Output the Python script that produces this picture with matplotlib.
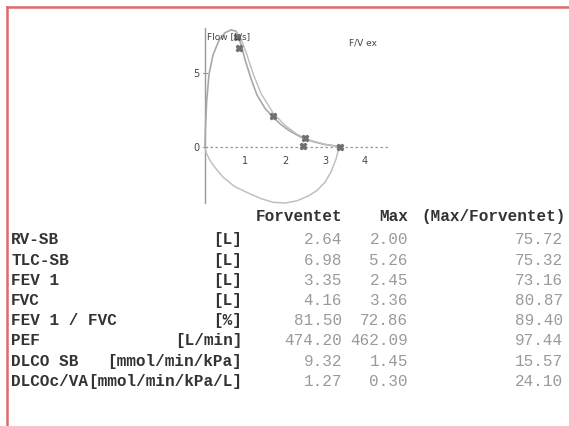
import matplotlib
matplotlib.use("Agg")
import matplotlib.pyplot as plt
from matplotlib.lines import Line2D

# flow/volume loop (volume L, flow L/s)
exp_vol = [0.0, 0.01, 0.04, 0.1, 0.2, 0.35, 0.5, 0.65, 0.78, 0.88, 1.0, 1.15, 1.3, 1.5, 1.7, 1.9, 2.1, 2.4, 2.7, 3.0, 3.3, 3.4]
exp_flow = [0.0, 1.2, 3.0, 4.9, 6.2, 7.2, 7.7, 7.9, 7.8, 7.1, 5.9, 4.6, 3.5, 2.6, 2.0, 1.5, 1.1, 0.65, 0.35, 0.15, 0.04, 0.0]
exp2_vol = [0.78, 0.9, 1.05, 1.2, 1.4, 1.7, 2.0, 2.3, 2.6, 3.0, 3.4]
exp2_flow = [7.8, 7.3, 6.2, 4.95, 3.6, 2.3, 1.45, 0.85, 0.45, 0.17, 0.0]
insp_vol = [0.0, 0.03, 0.12, 0.25, 0.45, 0.75, 1.1, 1.4, 1.7, 2.0, 2.3, 2.6, 2.8, 3.0, 3.15, 3.28, 3.35]
insp_flow = [0.0, -0.4, -0.9, -1.4, -2.05, -2.7, -3.15, -3.5, -3.75, -3.8, -3.65, -3.3, -2.95, -2.4, -1.7, -0.8, 0.0]
mark_vol = [0.8, 0.85, 1.7, 2.5, 2.45, 3.38]
mark_flow = [7.4, 6.7, 2.05, 0.6, 0.05, 0.0]
xticks = [1, 2, 3, 4]
yticks = [0, 5]

# table
header = ["Forventet", "Max", "(Max/Forventet)"]
names = ["RV-SB", "TLC-SB", "FEV 1", "FVC", "FEV 1 / FVC", "PEF", "DLCO SB", "DLCOc/VA"]
units = ["[L]", "[L]", "[L]", "[L]", "[%]", "[L/min]", "[mmol/min/kPa]", "[mmol/min/kPa/L]"]
pred = ["2.64", "6.98", "3.35", "4.16", "81.50", "474.20", "9.32", "1.27"]
maxv = ["2.00", "5.26", "2.45", "3.36", "72.86", "462.09", "1.45", "0.30"]
pct = ["75.72", "75.32", "73.16", "80.87", "89.40", "97.44", "15.57", "24.10"]

W, H = 569, 427
fig = plt.figure(figsize=(W / 100, H / 100), dpi=100)

def fx(px):
    return px / W

def fy(py):
    return 1 - py / H

# red frame on left/top
fig.add_artist(Line2D([fx(7), fx(7)], [0, fy(8)], color="#dc6a6a", lw=1.8))
fig.add_artist(Line2D([fx(7), 1], [fy(8), fy(8)], color="#dc6a6a", lw=1.8))

ax = fig.add_axes([fx(193), fy(207), 200 / W, 180.6 / H])
ax.set_xlim(-0.3, 4.7)
ax.set_ylim(-4.0, 8.2)
ax.axis("off")
ax.plot([0, 0], [-3.8, 8.0], color="#999999", lw=1.0)
ax.plot([0, 4.6], [0, 0], color="#999999", lw=0.9, ls=(0, (2, 2)))
ax.plot(exp_vol, exp_flow, color="#a8a8a8", lw=1.2)
ax.plot(exp2_vol, exp2_flow, color="#bdbdbd", lw=1.0)
ax.plot(insp_vol, insp_flow, color="#c0c0c0", lw=1.1)
ax.plot(mark_vol, mark_flow, ls="none", marker="X", ms=5, color="#707070")
for t in xticks:
    ax.text(t, -0.9, str(t), ha="center", va="center", fontsize=7, color="#444444")
for t in yticks:
    ax.text(-0.22, t, str(t), ha="center", va="center", fontsize=7, color="#444444")
    ax.plot([-0.04, 0.04], [t, t], color="#999999", lw=0.8)
ax.text(0.05, 7.5, "Flow [L/s]", fontsize=6.5, color="#444444", ha="left", va="center")
ax.text(3.6, 7.1, "F/V ex", fontsize=6.5, color="#444444", ha="left", va="center")

mono = "Liberation Mono"
fs = 11.5
dark = "#333333"
light = "#9a9a9a"
fig.text(fx(342), fy(217), header[0], ha="right", va="center", family=mono, fontsize=fs, weight="bold", color=dark)
fig.text(fx(408), fy(217), header[1], ha="right", va="center", family=mono, fontsize=fs, weight="bold", color=dark)
fig.text(fx(566), fy(217), header[2], ha="right", va="center", family=mono, fontsize=fs, weight="bold", color=dark)
for i in range(len(names)):
    y = fy(240 + 20.2 * i)
    fig.text(fx(11), y, names[i], ha="left", va="center", family=mono, fontsize=fs, weight="bold", color=dark)
    fig.text(fx(242), y, units[i], ha="right", va="center", family=mono, fontsize=fs, weight="bold", color=dark)
    fig.text(fx(342), y, pred[i], ha="right", va="center", family=mono, fontsize=fs, color=light)
    fig.text(fx(408), y, maxv[i], ha="right", va="center", family=mono, fontsize=fs, color=light)
    fig.text(fx(563), y, pct[i], ha="right", va="center", family=mono, fontsize=fs, color=light)

fig.savefig("out.png", dpi=100)
